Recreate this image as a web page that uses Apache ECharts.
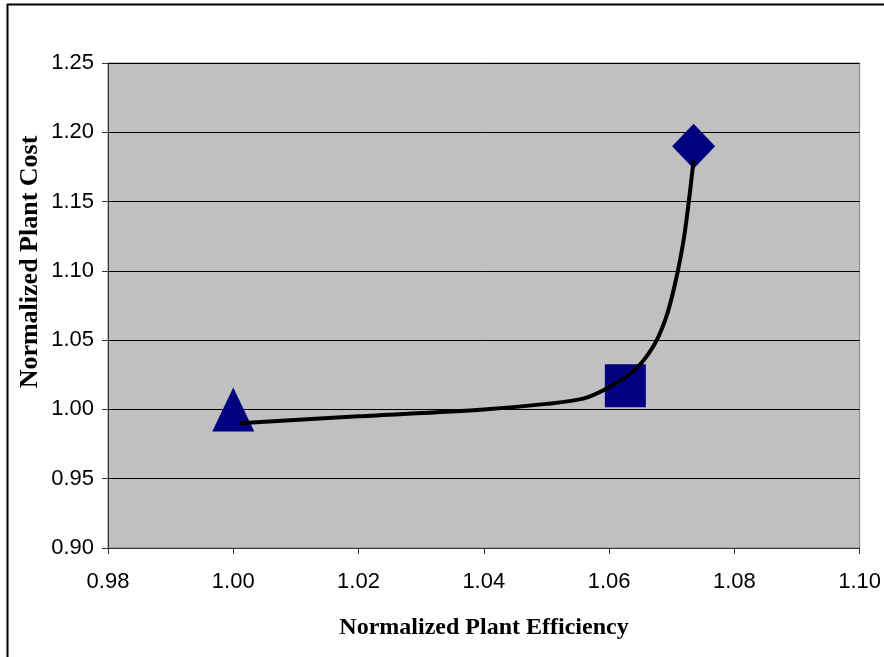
<!DOCTYPE html>
<html>
<head>
<meta charset="utf-8">
<script src="https://cdn.jsdelivr.net/npm/echarts@6/dist/echarts.min.js"></script>
<style>
    html, body { margin: 0; padding: 0; background: #fff; }
    #chart { width: 884px; height: 657px; }
</style>
</head>
<body>
<div id="chart"></div>
<script>
// marker points (efficiency, cost)
const trianglePt = [[1.000, 1.000]];
const squarePt = [[1.0626, 1.017]];
const diamondPt = [[1.0735, 1.190]];

// fitted curve
const curveX = [1.001, 1.020, 1.040, 1.050, 1.056, 1.060, 1.064, 1.067, 1.069, 1.0705, 1.072, 1.0735];
const curveY = [0.990, 0.995, 1.000, 1.004, 1.008, 1.016, 1.028, 1.045, 1.065, 1.090, 1.125, 1.180];

const xTicks = ['0.98', '1.00', '1.02', '1.04', '1.06', '1.08', '1.10'];
const yTicks = ['0.90', '0.95', '1.00', '1.05', '1.10', '1.15', '1.20', '1.25'];

const curve = curveX.map((x, i) => [x, curveY[i]]);

let chart = echarts.init(document.getElementById('chart'));

let tickFont = {
    fontFamily: 'Liberation Sans',
    fontSize: 22,
    color: '#000'
};

chart.setOption({
    animation: false,
    grid: {
        left: 108,
        top: 63,
        width: 753,
        height: 485,
        show: true,
        backgroundColor: '#C0C0C0',
        borderColor: '#808080',
        borderWidth: 1
    },
    xAxis: {
        type: 'value',
        min: 0.98,
        max: 1.10,
        interval: 0.02,
        axisLine: { show: true, onZero: false, lineStyle: { color: '#333', width: 1 } },
        axisTick: { show: true, length: 6, lineStyle: { color: '#333' } },
        splitLine: { show: false },
        axisLabel: Object.assign({
            margin: 23,
            formatter: v => xTicks.find(t => Math.abs(parseFloat(t) - v) < 1e-6) || ''
        }, tickFont)
    },
    yAxis: {
        type: 'value',
        min: 0.90,
        max: 1.25,
        interval: 0.05,
        axisLine: { show: true, onZero: false, lineStyle: { color: '#333', width: 1 } },
        axisTick: { show: true, length: 6, lineStyle: { color: '#333' } },
        splitLine: { show: true, lineStyle: { color: '#000', width: 1 } },
        axisLabel: Object.assign({
            margin: 14,
            formatter: v => yTicks.find(t => Math.abs(parseFloat(t) - v) < 1e-6) || ''
        }, tickFont)
    },
    graphic: [
        {
            type: 'line',
            shape: { x1: 7, y1: 4.5, x2: 884, y2: 4.5 },
            style: { stroke: '#000', lineWidth: 2 }
        },
        {
            type: 'line',
            shape: { x1: 7.5, y1: 4, x2: 7.5, y2: 657 },
            style: { stroke: '#000', lineWidth: 2 }
        },
        {
            type: 'text',
            x: 484,
            y: 628,
            style: {
                text: 'Normalized Plant Efficiency',
                font: 'bold 24px "Liberation Serif"',
                fill: '#000',
                align: 'center',
                verticalAlign: 'middle'
            }
        },
        {
            type: 'text',
            x: 30,
            y: 262,
            rotation: Math.PI / 2,
            style: {
                text: 'Normalized Plant Cost',
                font: 'bold 26px "Liberation Serif"',
                fill: '#000',
                align: 'center',
                verticalAlign: 'middle'
            }
        }
    ],
    series: [
        {
            type: 'line',
            data: curve,
            smooth: 0.3,
            showSymbol: false,
            lineStyle: { color: '#000', width: 4 },
            z: 3
        },
        {
            type: 'scatter',
            data: trianglePt,
            symbol: 'triangle',
            symbolSize: [42, 44],
            itemStyle: { color: '#000080', opacity: 1 },
            z: 2
        },
        {
            type: 'scatter',
            data: squarePt,
            symbol: 'rect',
            symbolSize: [41, 43],
            itemStyle: { color: '#000080', opacity: 1 },
            z: 2
        },
        {
            type: 'scatter',
            data: diamondPt,
            symbol: 'diamond',
            symbolSize: [43, 45],
            itemStyle: { color: '#000080', opacity: 1 },
            z: 2
        }
    ]
});
</script>
</body>
</html>
